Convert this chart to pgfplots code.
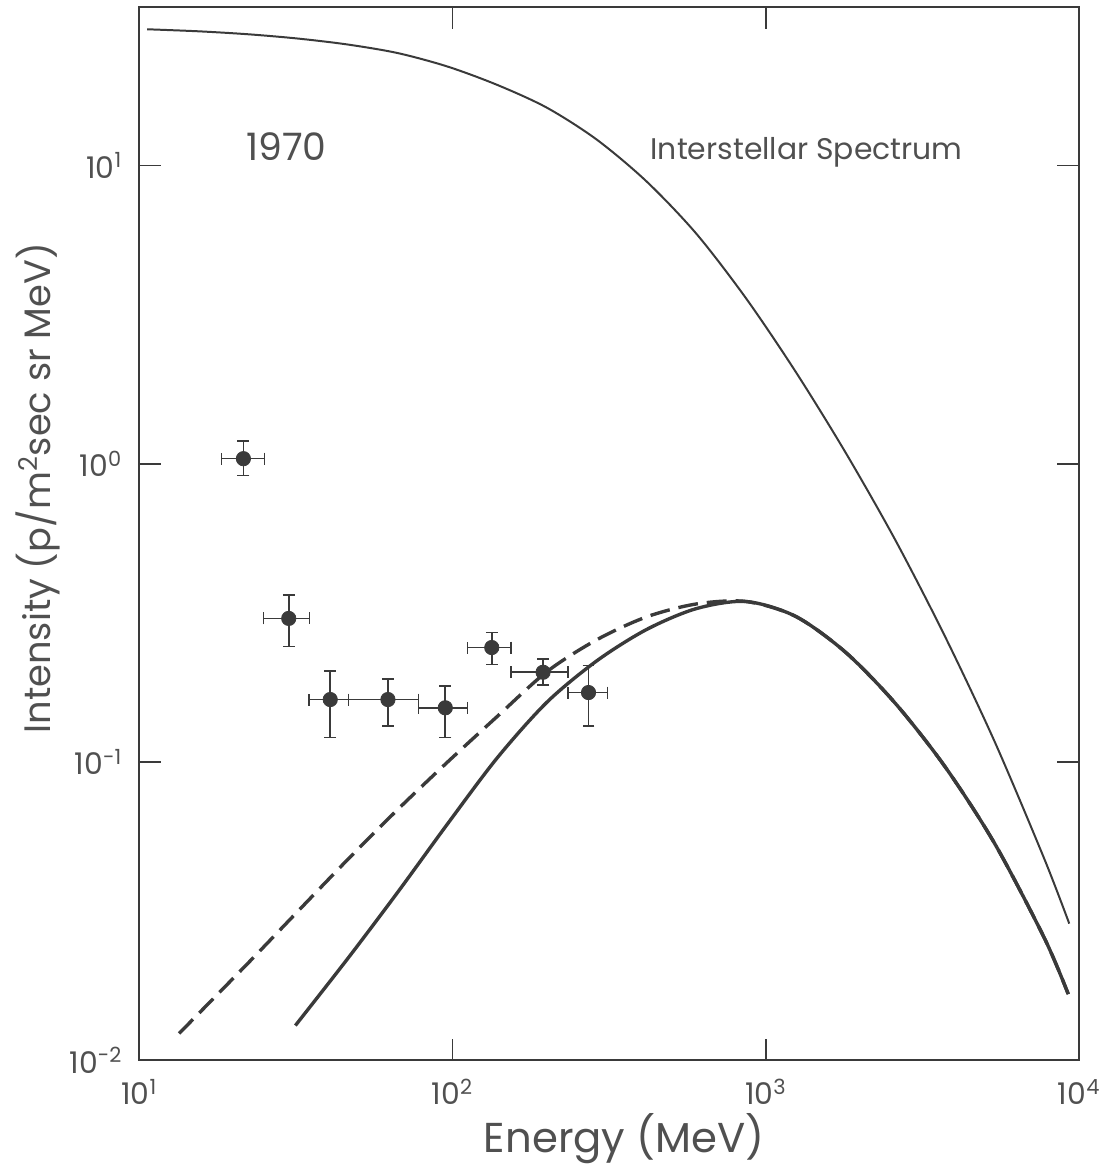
\documentclass[border=0pt]{standalone}
\usepackage{fontspec}
\setmainfont{Poppins}
\usepackage{pgfplots}
\usepackage{pgfplotstable}
\pgfplotsset{compat=1.18}
\definecolor{ink}{HTML}{3A3A3A}
\definecolor{txt}{HTML}{505050}

\pgfplotstableread{
E I
10.60 28.62
15.50 28.17
22.35 27.53
32.20 26.63
46.42 25.43
66.90 23.81
96.40 21.46
139.0 18.62
200.3 15.61
288.6 12.21
415.9 8.845
599.5 5.911
864.1 3.589
1245 2.034
1795 1.092
2587 0.5559
3728 0.2641
5374 0.1170
7743 0.04732
9297 0.02872
}\interstellar

\pgfplotstableread{
E I
31.50 0.01308
46.42 0.02202
66.90 0.03666
96.40 0.06205
139.0 0.1034
200.3 0.1589
288.6 0.2184
415.9 0.2781
599.5 0.3268
864.1 0.3453
1245 0.3078
1795 0.2335
2587 0.1575
3728 0.0966
5374 0.0533
7743 0.0257
9230 0.01667
}\solidmod

\pgfplotstableread{
E I
13.40 0.01230
22.35 0.02128
32.20 0.03172
46.42 0.04727
66.90 0.06940
96.40 0.1000
139.0 0.1423
200.3 0.2011
288.6 0.2570
415.9 0.3066
599.5 0.3388
864.1 0.3453
1245 0.3078
1795 0.2335
2587 0.1575
3728 0.0966
5374 0.0533
7743 0.0257
9230 0.01667
}\dashedmod

\pgfplotstableread{
x y xp xm yp ym
21.5 1.04 3.6 3.2 0.15 0.128
30.0 0.303 4.9 5.1 0.06 0.059
40.7 0.162 5.9 5.9 0.0395 0.041
62.2 0.162 15.6 15.6 0.028 0.030
94.8 0.152 16.9 17.0 0.028 0.031
133.4 0.242 20.4 21.7 0.030 0.030
194.5 0.200 39.1 41.0 0.022 0.019
271.6 0.171 41.0 37.6 0.040 0.039
}\points

\begin{document}
\begin{tikzpicture}
\begin{axis}[
  scale only axis, width=472.5bp, height=529.5bp,
  xmode=log, ymode=log,
  xmin=10, xmax=10000, ymin=0.01, ymax=34,
  axis line style={ink, line width=1bp},
  tick style={ink, line width=0.8bp},
  major tick length=11bp, tick align=inside,
  xminorticks=false, yminorticks=false,
  xtick={10,100,1000,10000},
  xticklabels={10\textsuperscript{1},10\textsuperscript{2},10\textsuperscript{3},10\textsuperscript{4}},
  ytick={0.01,0.1,1,10},
  yticklabels={10\textsuperscript{-2},10\textsuperscript{-1},10\textsuperscript{0},10\textsuperscript{1}},
  ticklabel style={font=\fontsize{15bp}{18bp}\selectfont, text=txt},
  xticklabel style={yshift=-6bp},
  yticklabel style={xshift=-5bp},
  xlabel={Energy (MeV)},
  ylabel={Intensity (p/m\textsuperscript{2}sec sr MeV)},
  xlabel style={font=\fontsize{21bp}{24bp}\selectfont, text=txt, at={(axis description cs:0.516,-0.074)}, anchor=center},
  ylabel style={font=\fontsize{18.5bp}{22bp}\selectfont, text=txt, at={(axis description cs:-0.108,0.543)}, anchor=center},
  clip=false,
]
\addplot[ink, line width=1bp, smooth] table[x=E,y=I] {\interstellar};
\addplot[ink, line width=1.7bp, smooth, dash pattern=on 10bp off 4.5bp] table[x=E,y=I] {\dashedmod};
\addplot[ink, line width=1.7bp, smooth] table[x=E,y=I] {\solidmod};
\addplot[ink, only marks, mark=*, mark size=3.6bp, mark options={fill=ink, draw=ink},
  error bars/.cd, x dir=both, x explicit, y dir=both, y explicit,
  error bar style={ink, line width=0.8bp},
  error mark options={rotate=90, ink, line width=0.8bp, mark size=3bp}]
  table[x=x, y=y, x error plus=xp, x error minus=xm, y error plus=yp, y error minus=ym] {\points};
\node[font=\fontsize{19bp}{22bp}\selectfont, text=txt] at (axis cs:29.5,11.6) {1970};
\node[font=\fontsize{15bp}{18bp}\selectfont, text=txt] at (axis cs:1349,11.1) {Interstellar Spectrum};
\end{axis}
\path ([shift={(-70bp,-51.5bp)}]current axis.south west) rectangle ([shift={(14.5bp,3.5bp)}]current axis.north east);
\end{tikzpicture}
\end{document}
